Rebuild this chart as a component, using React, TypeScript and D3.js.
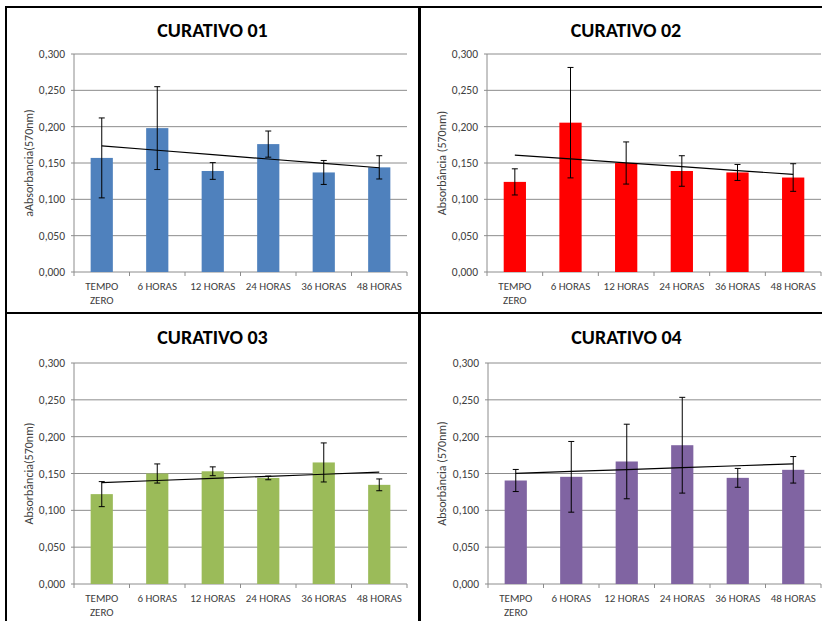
import * as d3 from "d3";

// categories along the x axis (line-broken as in the original)
const categories = ["TEMPO ZERO", "6 HORAS", "12 HORAS", "24 HORAS", "36 HORAS", "48 HORAS"];
const categoryLines = [["TEMPO", "ZERO"], ["6 HORAS"], ["12 HORAS"], ["24 HORAS"], ["36 HORAS"], ["48 HORAS"]];

const titles = ["CURATIVO 01", "CURATIVO 02", "CURATIVO 03", "CURATIVO 04"];
const yLabels = ["aAbsorbancia(570nm)", "Absorbância (570nm)", "Absorbância(570nm)", "Absorbância (570nm)"];
const colors = ["#4F81BD", "#FF0000", "#9BBB59", "#8064A2"];

const means01 = [0.157, 0.198, 0.139, 0.176, 0.137, 0.144];
const errors01 = [0.055, 0.057, 0.0115, 0.018, 0.0165, 0.016];
const means02 = [0.124, 0.2055, 0.15, 0.139, 0.137, 0.13];
const errors02 = [0.018, 0.076, 0.029, 0.021, 0.011, 0.019];
const means03 = [0.122, 0.15, 0.153, 0.144, 0.165, 0.1346];
const errors03 = [0.017, 0.013, 0.006, 0.0025, 0.0265, 0.008];
const means04 = [0.1405, 0.1455, 0.1663, 0.1884, 0.1441, 0.155];
const errors04 = [0.015, 0.048, 0.0506, 0.065, 0.0128, 0.018];

const yTicks = [0, 0.05, 0.1, 0.15, 0.2, 0.25, 0.3];

const W = 822;
const H = 621;
const FONT = "Carlito, Lato, 'Open Sans', sans-serif";

const fmt = d3.formatLocale({ decimal: ",", thousands: ".", grouping: [3], currency: ["", ""] }).format(".3f");

interface PanelProps {
  title: string;
  yLabel: string;
  color: string;
  means: number[];
  errors: number[];
  left: number;
  right: number;
  top: number;
  bottom: number;
  titleY: number;
  yLabelX: number;
}

function Panel({ title, yLabel, color, means, errors, left, right, top, bottom, titleY, yLabelX }: PanelProps) {
  const x = d3.scaleBand<string>().domain(categories).range([left, right]).paddingInner(0.6).paddingOuter(0.3);
  const y = d3.scaleLinear().domain([0, 0.3]).range([bottom, top]);
  const step = x.step();
  const bw = x.bandwidth();
  const cx = (c: string) => (x(c) ?? 0) + bw / 2;

  // linear trendline (least squares on category index)
  const idx = means.map((_, i) => i + 1);
  const mx = d3.mean(idx)!;
  const my = d3.mean(means)!;
  const slope =
    d3.sum(idx, (v, i) => (v - mx) * (means[i] - my)) / d3.sum(idx, (v) => (v - mx) ** 2);
  const trend = (i: number) => my + slope * (i - mx);
  const trendLine = d3
    .line<number>()
    .x((i) => cx(categories[i - 1]))
    .y((i) => y(trend(i)));

  const titleX = (left + right) / 2 - 28;

  return (
    <g>
      <text x={titleX} y={titleY} textAnchor="middle" fontSize={20} fontWeight="bold" fill="#000">
        {title}
      </text>
      {/* gridlines */}
      {yTicks.map((t) => (
        <g key={t}>
          {t > 0 && <line x1={left} x2={right} y1={y(t)} y2={y(t)} stroke="#8c8c8c" strokeWidth={1} />}
          <line x1={left - 3} x2={left} y1={y(t)} y2={y(t)} stroke="#8c8c8c" />
          <text x={left - 9} y={y(t)} dy="0.35em" textAnchor="end" fontSize={11.5} fill="#404040">
            {fmt(t)}
          </text>
        </g>
      ))}
      {/* axes */}
      <line x1={left} x2={left} y1={top} y2={bottom} stroke="#8c8c8c" />
      <line x1={left} x2={right} y1={bottom} y2={bottom} stroke="#8c8c8c" />
      {d3.range(categories.length + 1).map((i) => (
        <line key={i} x1={left + i * step} x2={left + i * step} y1={bottom} y2={bottom + 4} stroke="#8c8c8c" />
      ))}
      {/* bars */}
      {means.map((m, i) => (
        <rect key={i} x={x(categories[i])} y={y(m)} width={bw} height={bottom - y(m)} fill={color} />
      ))}
      {/* error bars */}
      {means.map((m, i) => {
        const c = cx(categories[i]);
        const hi = y(m + errors[i]);
        const lo = y(m - errors[i]);
        return (
          <g key={i} stroke="#000" strokeWidth={1}>
            <line x1={c} x2={c} y1={hi} y2={lo} />
            <line x1={c - 3} x2={c + 3} y1={hi} y2={hi} />
            <line x1={c - 3} x2={c + 3} y1={lo} y2={lo} />
          </g>
        );
      })}
      <path d={trendLine(idx) ?? ""} fill="none" stroke="#000" strokeWidth={1.2} />
      {/* category labels */}
      {categoryLines.map((lines, i) => (
        <text key={i} x={cx(categories[i])} y={bottom + 18} textAnchor="middle" fontSize={11} fill="#404040">
          {lines.map((l, j) => (
            <tspan key={j} x={cx(categories[i])} dy={j === 0 ? 0 : 14}>
              {l}
            </tspan>
          ))}
        </text>
      ))}
      <text
        transform={`translate(${yLabelX},${(top + bottom) / 2}) rotate(-90)`}
        textAnchor="middle"
        dy="0.35em"
        fontSize={12}
        fill="#404040"
      >
        {yLabel}
      </text>
    </g>
  );
}

const layouts = [
  { left: 74, right: 407, top: 54, bottom: 272, titleY: 37, yLabelX: 29 },
  { left: 487, right: 821, top: 54, bottom: 272, titleY: 37, yLabelX: 442 },
  { left: 74, right: 407, top: 363, bottom: 584, titleY: 344, yLabelX: 29 },
  { left: 488, right: 821, top: 363, bottom: 584, titleY: 344, yLabelX: 442 },
];
const meansAll = [means01, means02, means03, means04];
const errorsAll = [errors01, errors02, errors03, errors04];

export default function App() {
  return (
    <svg
      width={W}
      height={H}
      style={{ position: "absolute", left: 0, top: 0, background: "#fff", fontFamily: FONT }}
    >
      <rect width={W} height={H} fill="#fff" />
      {layouts.map((l, i) => (
        <Panel
          key={i}
          title={titles[i]}
          yLabel={yLabels[i]}
          color={colors[i]}
          means={meansAll[i]}
          errors={errorsAll[i]}
          {...l}
        />
      ))}
      {/* frame */}
      <g stroke="#000" strokeWidth={2}>
        <line x1={5} x2={W} y1={7} y2={7} />
        <line x1={6} x2={6} y1={6} y2={H} />
        <line x1={419.5} x2={419.5} y1={6} y2={H} strokeWidth={3} />
        <line x1={5} x2={W} y1={313} y2={313} />
      </g>
    </svg>
  );
}
